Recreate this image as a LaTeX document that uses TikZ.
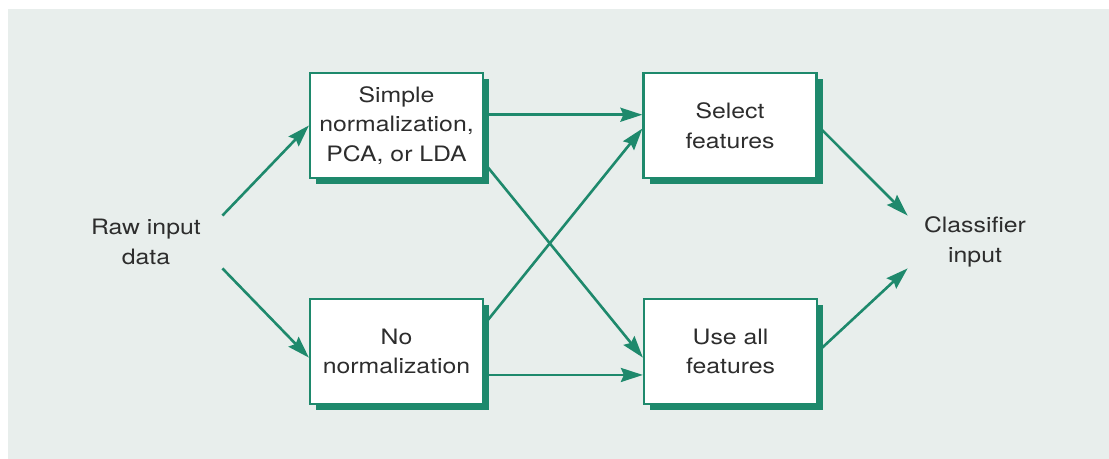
\documentclass[tikz,border=0pt]{standalone}
\usepackage{fontspec}
\setmainfont{TeX Gyre Heros}[FakeStretch=1.17]
\usepackage{xcolor}
\usepackage{tikz}
\usetikzlibrary{positioning,arrows.meta,shadows}

\definecolor{boxgreen}{RGB}{30,137,108}
\definecolor{bgtint}{RGB}{232,238,236}
\definecolor{txtgray}{RGB}{45,45,45}

\tikzset{
  box/.style={draw=boxgreen, line width=1.1pt, fill=white, align=center,
    minimum width=86.5pt, minimum height=52.5pt, inner sep=0pt,
    drop shadow={shadow xshift=3.2pt, shadow yshift=-3.2pt, fill=boxgreen, opacity=1}},
  lbl/.style={align=center, inner sep=0pt, minimum height=26pt},
  arr/.style={draw=boxgreen, line width=1.3pt, -{Stealth[length=11pt,width=7pt,inset=1.5pt]}}
}

\begin{document}
\begin{tikzpicture}[x=0.5pt, y=-0.5pt, font=\fontsize{10.6}{14.75}\selectfont, text=txtgray]
\useasboundingbox (0,0) rectangle (1109,459);
\fill[bgtint] (8,9) rectangle (1120,470);
\node[lbl, minimum width=76pt] (raw) at (146,242) {Raw input\\data};
\node[lbl, minimum width=67pt] (cls) at (975,242) {Classifier\\input};
\node[box] (simple) at (396.5,125.5) {Simple\\normalization,\\PCA, or LDA};
\node[box] (nonorm) at (396.5,351.5) {No\\normalization};
\node[box] (select) at (730,125.5) {Select\\features};
\node[box] (useall) at (730.5,351.5) {Use all\\features};
\draw[arr] (raw.north east) -- (simple.west);
\draw[arr] (raw.south east) -- (nonorm.184);
\draw[arr] (simple.7) -- (simple.7 -| select.west);
\draw[arr] (simple.-23) -- (useall.184);
\draw[arr] (nonorm.17) -- (select.182);
\draw[arr] (nonorm.-15) -- (nonorm.-15 -| useall.west);
\draw[arr] (select.east) -- (cls.north west);
\draw[arr] (useall.east) -- (cls.south west);
\end{tikzpicture}
\end{document}
